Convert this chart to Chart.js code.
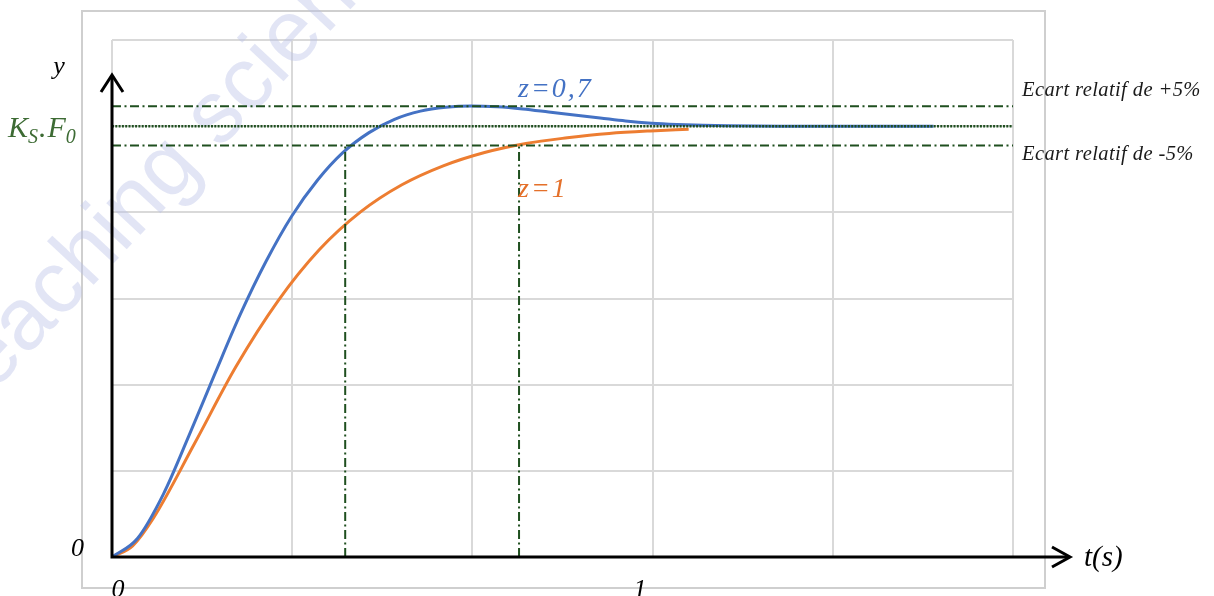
<!DOCTYPE html>
<html><head><meta charset="utf-8">
<script src="https://cdn.jsdelivr.net/npm/chart.js@4.4.0/dist/chart.umd.min.js"></script>
<style>html,body{margin:0;padding:0;background:#fff;overflow:hidden}canvas{display:block}</style>
</head><body>
<canvas id="c" width="1214" height="596"></canvas>
<script>
// ---- data ----
const blueT  = [0, 0.048, 0.097, 0.145, 0.194, 0.242, 0.291, 0.339, 0.388, 0.436, 0.485, 0.533, 0.582, 0.630, 0.678, 0.727, 0.775, 0.824, 0.872, 0.921, 0.969, 1.018, 1.066, 1.115, 1.163, 1.260, 1.360, 1.460, 1.550];
const blueY  = [0, 0.043, 0.146, 0.281, 0.425, 0.563, 0.687, 0.791, 0.875, 0.939, 0.985, 1.016, 1.035, 1.044, 1.047, 1.045, 1.040, 1.033, 1.026, 1.019, 1.012, 1.007, 1.004, 1.002, 1.001, 1.000, 1.000, 1.000, 1.000];
const orangeT = [0, 0.039, 0.078, 0.156, 0.234, 0.313, 0.391, 0.469, 0.547, 0.625, 0.703, 0.781, 0.859, 0.938, 1.016, 1.088];
const orangeY = [0, 0.026, 0.090, 0.264, 0.442, 0.594, 0.713, 0.801, 0.864, 0.908, 0.939, 0.960, 0.973, 0.983, 0.989, 0.993];
const bandHigh = 1.046;
const finalValue = 1.0;
const bandLow = 0.955;
const settleTimes = [0.440, 0.768];
const xTickValues = [0, 1];
const xTickText = ['0', '1'];
const yTickValues = [0];
const yTickText = ['0'];
const xMax = 1.70, xGridStep = 0.34, yMax = 1.2, yStep = 0.2;

const pts = (xs, ys) => xs.map((x, i) => ({x, y: ys[i]}));
const GREEN = '#1f4f1f';
const DASHDOT = [9, 3.5, 2, 3.5];

const datasets = [
  {data: [{x:0,y:bandHigh},{x:xMax,y:bandHigh}], borderColor: GREEN, borderWidth: 2, borderDash: DASHDOT},
  {data: [{x:0,y:finalValue},{x:xMax,y:finalValue}], borderColor: GREEN, borderWidth: 2.5, borderDash: [2, 1.3]},
  {data: [{x:0,y:bandLow},{x:xMax,y:bandLow}], borderColor: GREEN, borderWidth: 2, borderDash: DASHDOT},
  ...settleTimes.map(t => ({data: [{x:t,y:0},{x:t,y:bandLow}], borderColor: GREEN, borderWidth: 2, borderDash: DASHDOT})),
  {data: pts(blueT, blueY), borderColor: '#4472C4', borderWidth: 3, cubicInterpolationMode: 'monotone'},
  {data: pts(orangeT, orangeY), borderColor: '#ED7D31', borderWidth: 3, cubicInterpolationMode: 'monotone'}
];

const deco = {
  id: 'deco',
  beforeDraw(chart) {
    const ctx = chart.ctx;
    ctx.save();
    ctx.fillStyle = '#fff';
    ctx.fillRect(0, 0, chart.width, chart.height);
    ctx.strokeStyle = '#cfcfcf';
    ctx.lineWidth = 2;
    ctx.strokeRect(82, 11, 963, 577);
    ctx.restore();
  },
  beforeDatasetsDraw(chart) {
    const ctx = chart.ctx;
    ctx.save();
    ctx.translate(-24, 411);
    ctx.rotate(-47 * Math.PI / 180);
    ctx.font = '88px "Liberation Sans", sans-serif';
    ctx.fillStyle = 'rgba(185,193,230,0.42)';
    ctx.textBaseline = 'alphabetic';
    ctx.fillText('teaching science', 0, 0);
    ctx.restore();
  },
  afterDraw(chart) {
    const ctx = chart.ctx;
    const xs = chart.scales.x, ys = chart.scales.y;
    const ox = xs.getPixelForValue(0), oy = ys.getPixelForValue(0);
    ctx.save();
    // axes with arrows
    ctx.strokeStyle = '#000';
    ctx.lineWidth = 3;
    ctx.lineCap = 'butt';
    ctx.beginPath();
    ctx.moveTo(ox, oy + 1.5); ctx.lineTo(ox, 76);
    ctx.moveTo(ox - 1.5, oy); ctx.lineTo(1069, oy);
    ctx.stroke();
    ctx.lineJoin = 'miter';
    ctx.beginPath();
    ctx.moveTo(ox - 11, 92); ctx.lineTo(ox, 75); ctx.lineTo(ox + 11, 92);
    ctx.moveTo(1052, oy - 10); ctx.lineTo(1070, oy); ctx.lineTo(1052, oy + 10);
    ctx.stroke();

    const serif = '"Liberation Serif", "Times New Roman", serif';
    ctx.textBaseline = 'alphabetic';
    ctx.fillStyle = '#000';
    ctx.font = 'italic 26px ' + serif;
    ctx.textAlign = 'center';
    ctx.fillText('y', 59, 74);
    // tick labels
    xTickValues.forEach((v, i) => ctx.fillText(xTickText[i], xs.getPixelForValue(v) + (v ? -2 : 6), 597));
    ctx.textAlign = 'right';
    yTickValues.forEach((v, i) => ctx.fillText(yTickText[i], 84, ys.getPixelForValue(v) - 1));
    ctx.textAlign = 'left';
    ctx.font = 'italic 29px ' + serif;
    ctx.fillText('t(s)', 1084, 566);

    // K_S.F_0
    ctx.fillStyle = '#3d6b34';
    ctx.letterSpacing = '1px';
    let x = 8;
    const big = 'italic 30px ' + serif, small = 'italic 20px ' + serif;
    ctx.font = big; ctx.fillText('K', x, 137); x += ctx.measureText('K').width;
    ctx.font = small; ctx.fillText('S', x - 1, 143); x += ctx.measureText('S').width - 1;
    ctx.font = big; ctx.fillText('.F', x, 137); x += ctx.measureText('.F').width;
    ctx.font = small; ctx.fillText('0', x - 1, 143);

    // curve labels
    ctx.font = 'italic 28px ' + serif;
    ctx.letterSpacing = '2px';
    ctx.fillStyle = '#4472C4';
    ctx.fillText('z=0,7', 518, 97);
    ctx.fillStyle = '#E4702A';
    ctx.fillText('z=1', 518, 197);

    // band labels
    ctx.letterSpacing = '0.4px';
    ctx.fillStyle = '#1a1a1a';
    ctx.font = 'italic 20.5px ' + serif;
    ctx.fillText('Ecart relatif de +5%', 1022, 96);
    ctx.fillText('Ecart relatif de -5%', 1022, 160);
    ctx.letterSpacing = '0px';
    ctx.restore();
  }
};

new Chart(document.getElementById('c'), {
  type: 'line',
  data: {datasets},
  options: {
    responsive: false,
    animation: false,
    devicePixelRatio: 1,
    layout: {padding: {left: 112, right: 201, top: 40, bottom: 39}},
    plugins: {legend: {display: false}, tooltip: {enabled: false}},
    elements: {point: {radius: 0}, line: {tension: 0, fill: false}},
    scales: {
      x: {
        type: 'linear', min: 0, max: xMax,
        afterBuildTicks: s => { const t = []; for (let v = 0; v <= xMax + 1e-6; v += xGridStep) t.push({value: v}); s.ticks = t; },
        ticks: {display: false},
        grid: {color: '#d9d9d9', lineWidth: 2, drawTicks: false},
        border: {display: false},
        afterFit: s => { s.height = 0; }
      },
      y: {
        type: 'linear', min: 0, max: yMax,
        ticks: {display: false, stepSize: yStep},
        grid: {color: '#d9d9d9', lineWidth: 2, drawTicks: false},
        border: {display: false},
        afterFit: s => { s.width = 0; }
      }
    }
  },
  plugins: [deco]
});
</script>
</body></html>
